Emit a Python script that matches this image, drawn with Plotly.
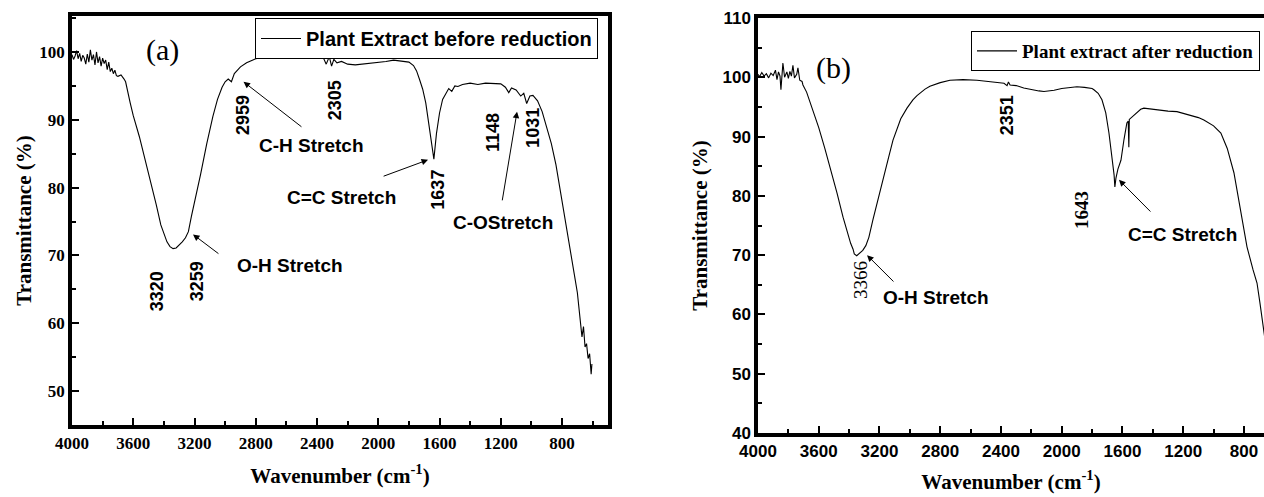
import plotly.graph_objects as go

# FTIR spectrum of the plant extract before reduction (panel a)
wn_before = [4000, 3990, 3980, 3970, 3960, 3950, 3940, 3930, 3920, 3910, 3900, 3890, 3880, 3870,
             3860, 3850, 3840, 3830, 3820, 3810, 3800, 3790, 3780, 3770, 3760, 3750, 3740, 3730,
             3720, 3710, 3700, 3680, 3660, 3650, 3620, 3600, 3560, 3520, 3490, 3450, 3420, 3400, 3380,
             3360, 3340, 3320, 3300, 3280, 3259, 3240, 3220, 3200, 3180, 3160, 3120, 3080, 3050,
             3020, 3000, 2980, 2959, 2940, 2900, 2860, 2800, 2750, 2700, 2600, 2500, 2420, 2360,
             2340, 2320, 2305, 2290, 2270, 2240, 2200, 2150, 2100, 2050, 2000, 1950, 1900, 1850,
             1800, 1770, 1750, 1730, 1710, 1690, 1670, 1655, 1637, 1620, 1600, 1580, 1560, 1540,
             1520, 1500, 1480, 1450, 1400, 1350, 1300, 1250, 1200, 1170, 1148, 1130, 1100, 1070,
             1050, 1031, 1010, 990, 960, 930, 900, 870, 840, 810, 780, 750, 720, 700, 690, 680,
             670, 660, 650, 640, 630, 620, 610, 605]
t_before = [99.6, 98.9, 99.4, 100.2, 99.0, 99.8, 98.6, 99.5, 99.1, 98.2, 99.7, 98.5, 100.3, 98.8,
            99.6, 98.1, 100.0, 98.4, 99.3, 97.9, 99.1, 98.3, 98.8, 97.4, 98.5, 97.1, 97.6, 96.8,
            97.3, 96.5, 96.4, 96.6, 96.0, 95.6, 92.5, 90.6, 87.5, 84.0, 81.3, 77.5, 74.5, 73.2, 72.0,
            71.3, 71.0, 71.1, 71.5, 72.0, 72.6, 73.5, 75.8, 77.8, 80.0, 82.0, 86.5, 90.5, 93.0,
            94.8, 95.6, 96.0, 95.6, 96.8, 97.8, 98.4, 99.0, 99.2, 99.4, 99.5, 99.3, 99.1, 99.2,
            98.2, 99.3, 97.9, 98.9, 98.4, 98.6, 98.2, 98.1, 98.2, 98.3, 98.5, 98.6, 98.8, 98.7,
            98.5, 98.0, 97.2, 95.9, 94.5, 92.5, 89.5, 86.8, 84.2, 88.0, 91.0, 93.0, 93.8, 94.6,
            94.2, 95.0, 94.9, 95.2, 95.4, 95.2, 95.4, 95.3, 95.3, 94.8, 94.0, 94.7, 94.4, 93.5,
            93.9, 92.4, 93.5, 93.6, 92.8, 91.2, 89.0, 86.5, 83.4, 79.5, 75.5, 71.5, 67.2, 64.5,
            62.0, 60.5, 58.0, 59.5, 56.5, 57.0, 54.8, 55.5, 52.5, 54.0]

# FTIR spectrum of the plant extract after reduction (panel b)
wn_after = [4000, 3990, 3975, 3960, 3945, 3930, 3915, 3900, 3885, 3875, 3865, 3855, 3849, 3840,
            3836, 3825, 3810, 3800, 3790, 3780, 3770, 3760, 3745, 3737, 3725, 3710, 3704, 3680,
            3660, 3644, 3600, 3560, 3526, 3480, 3440, 3410, 3390, 3374, 3366, 3350, 3330, 3310,
            3290, 3270, 3243, 3210, 3177, 3140, 3111, 3060, 3019, 2980, 2953, 2900, 2868, 2800,
            2736, 2650, 2558, 2450, 2380, 2360, 2351, 2340, 2300, 2250, 2200, 2150, 2117, 2050,
            2000, 1950, 1900, 1850, 1800, 1788, 1760, 1735, 1710, 1689, 1670, 1655, 1650, 1643,
            1630, 1610, 1590, 1571, 1562, 1558, 1555, 1530, 1505, 1480, 1459, 1400, 1350, 1300,
            1241, 1200, 1150, 1100, 1064, 1000, 952, 910, 866, 820, 780, 740, 714, 695, 682, 668,
            660]
t_after = [100.5, 100.1, 100.8, 100.2, 100.6, 99.9, 100.7, 100.3, 101.2, 99.6, 100.9, 100.2,
           97.9, 100.4, 102.4, 100.0, 100.9, 99.8, 101.0, 100.2, 102.0, 99.9, 100.5, 101.6, 99.5,
           99.3, 98.7, 97.5, 96.0, 95.0, 91.5, 88.0, 84.9, 80.5, 76.4, 73.5, 72.0, 71.0, 70.2,
           69.9, 70.3, 70.8, 71.6, 73.0, 76.0, 79.5, 82.6, 86.5, 89.4, 93.0, 94.8, 96.2, 96.9,
           98.0, 98.5, 99.1, 99.5, 99.6, 99.5, 99.2, 99.0, 98.6, 99.2, 98.7, 98.6, 98.2, 97.9,
           97.7, 97.6, 97.8, 98.1, 98.3, 98.4, 98.3, 98.1, 97.9, 97.3, 96.2, 94.0, 90.6, 87.0,
           83.5, 81.5, 83.0, 84.5, 86.0, 89.5, 92.3, 92.6, 88.2, 92.9, 93.5, 94.1, 94.6, 94.8,
           94.6, 94.5, 94.3, 94.2, 93.9, 93.6, 93.2, 92.8, 91.8, 90.6, 88.0, 83.9, 77.5, 71.4,
           67.5, 65.3, 62.0, 59.6, 56.9, 55.5]

W, H = 1264, 497
SERIF = "Liberation Serif"
SANS = "Liberation Sans"


def px_x(p):
    return p / W


def px_y(p):
    return 1 - p / H


fig = go.Figure()
fig.add_trace(go.Scatter(x=wn_before, y=t_before, mode="lines",
                         line=dict(color="black", width=1.1),
                         name="Plant Extract before reduction",
                         xaxis="x", yaxis="y", legend="legend"))
fig.add_trace(go.Scatter(x=wn_after, y=t_after, mode="lines",
                         line=dict(color="black", width=1.1),
                         name="Plant extract after reduction",
                         xaxis="x2", yaxis="y2", legend="legend2"))


def axis_style(font_family, **kw):
    d = dict(showline=True, linecolor="black", linewidth=3.5, ticks="inside",
             ticklen=7, tickwidth=2, tickcolor="black", showgrid=False, zeroline=False,
             automargin=False,
             tickfont=dict(family=font_family, size=17, color="black", weight="bold"))
    d.update(kw)
    return d


title_font = dict(family=SERIF, size=21, color="black", weight="bold")
minor_x = dict(dtick=200, ticks="inside", ticklen=4, tickwidth=2, tickcolor="black")
minor_y = dict(dtick=5, ticks="inside", ticklen=4, tickwidth=2, tickcolor="black")
x_ticks = [4000, 3600, 3200, 2800, 2400, 2000, 1600, 1200, 800]

fig.update_layout(
    width=W, height=H,
    margin=dict(l=0, r=0, t=0, b=0),
    paper_bgcolor="white", plot_bgcolor="white",
    xaxis=axis_style(SERIF, domain=[px_x(72), px_x(608)], anchor="y",
                     range=[4000, 500], tickvals=x_ticks, minor=minor_x, mirror=True,
                     title=dict(text="Wavenumber (cm<sup>-1</sup>)", font=title_font, standoff=17)),
    yaxis=axis_style(SERIF, domain=[px_y(425), px_y(16)], anchor="x",
                     range=[45, 105.3], tickvals=[50, 60, 70, 80, 90, 100], minor=minor_y,
                     mirror=True,
                     title=dict(text="Transmittance (%)", font=title_font, standoff=3)),
    xaxis2=axis_style(SANS, domain=[px_x(758), 1.0], anchor="y2",
                      range=[4000, 668], tickvals=x_ticks, minor=minor_x, mirror=True,
                      title=dict(text="Wavenumber (cm<sup>-1</sup>)", font=title_font, standoff=15)),
    yaxis2=axis_style(SANS, domain=[px_y(433), px_y(18)], anchor="x2",
                      range=[40, 110], tickvals=[40, 50, 60, 70, 80, 90, 100, 110], minor=minor_y,
                      title=dict(text="Transmittance (%)", font=title_font, standoff=10)),
    legend=dict(x=px_x(598), xanchor="right", y=px_y(18), yanchor="top",
                bordercolor="black", borderwidth=1, bgcolor="white",
                font=dict(family=SANS, size=20, color="black", weight="bold"),
                itemwidth=40, tracegroupgap=0),
    legend2=dict(x=px_x(1260), xanchor="right", y=px_y(31), yanchor="top",
                 bordercolor="black", borderwidth=1, bgcolor="white",
                 font=dict(family=SERIF, size=19, color="black", weight="bold"),
                 itemwidth=40, tracegroupgap=0),
    showlegend=True,
)

sans_bold = dict(family=SANS, size=19, color="black", weight="bold")
num_sans = dict(family=SANS, size=18, color="black", weight="bold")
num_serif = dict(family=SERIF, size=19, color="black")
panel_font = dict(family=SERIF, size=30, color="black")

# Panel (a) labels: (text, x, y, font, angle)
labels_a = [
    ("(a)", 3412, 100.3, panel_font, 0),
    ("2959", 2883, 90.7, num_sans, -90),
    ("C-H Stretch", 2433, 86.2, sans_bold, 0),
    ("2305", 2282, 92.9, num_sans, -90),
    ("C=C Stretch", 2243, 78.5, sans_bold, 0),
    ("1637", 1610, 79.7, num_sans, -90),
    ("1148", 1251, 88.2, num_sans, -90),
    ("1031", 990, 88.8, num_sans, -90),
    ("C-OStretch", 1186, 74.9, sans_bold, 0),
    ("3320", 3445, 64.7, num_sans, -90),
    ("3259", 3184, 66.2, num_sans, -90),
    ("O-H Stretch", 2576, 68.5, sans_bold, 0),
]
# Panel (b) labels
labels_b = [
    ("(b)", 3500, 101.6, panel_font, 0),
    ("2351", 2360, 93.6, num_sans, -90),
    ("1643", 1873, 77.6, dict(num_serif, weight="bold"), -90),
    ("C=C Stretch", 1208, 73.4, sans_bold, 0),
    ("3366", 3329, 65.8, num_serif, -90),
    ("O-H Stretch", 2828, 62.9, sans_bold, 0),
]

# Arrows: (tip x, tip y, tail x, tail y)
arrows_a = [
    (2880, 95.6, 2492, 88.8),
    (1675, 84.1, 1975, 81.6),
    (1094, 91.2, 1192, 77.9),
    (3210, 73.1, 3034, 70.1),
]
arrows_b = [
    (3282, 70.0, 3098, 65.3),
    (1623, 82.7, 1406, 77.1),
]

for labels, xr, yr in ((labels_a, "x", "y"), (labels_b, "x2", "y2")):
    for text, x, y, font, ang in labels:
        fig.add_annotation(x=x, y=y, xref=xr, yref=yr, text=text, showarrow=False,
                           font=font, textangle=ang, xanchor="center", yanchor="middle")

for arrows, xr, yr in ((arrows_a, "x", "y"), (arrows_b, "x2", "y2")):
    for tx, ty, sx, sy in arrows:
        fig.add_annotation(x=tx, y=ty, xref=xr, yref=yr, ax=sx, ay=sy, axref=xr, ayref=yr,
                           text="", showarrow=True, arrowhead=2, arrowsize=1.3,
                           arrowwidth=1, arrowcolor="black")

fig.write_html("out.html")
